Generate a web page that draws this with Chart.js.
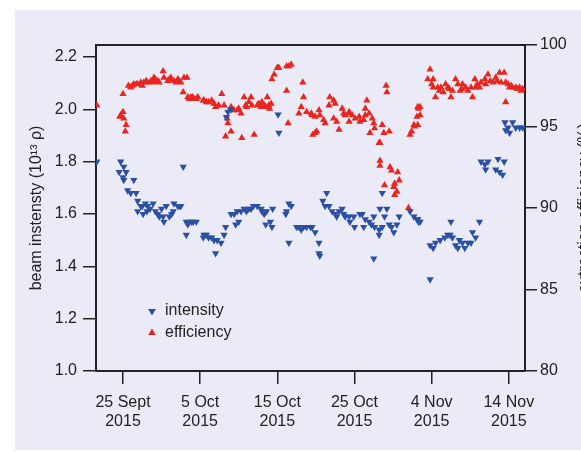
<!DOCTYPE html>
<html>
<head>
<meta charset="utf-8">
<script src="https://cdn.jsdelivr.net/npm/chart.js@4.4.1/dist/chart.umd.min.js"></script>
<style>
  html, body { margin: 0; padding: 0; background: #fff; }
  #wrap { width: 581px; height: 452px; }
</style>
</head>
<body>
<div id="wrap"><canvas id="chart" width="581" height="452"></canvas></div>
<script>
// x values are day numbers counted from 1 Sept 2015 (1 Oct = 31, 1 Nov = 62)
const tickDays = [25, 35, 45, 55, 65, 75];
const tickLabels = [['25 Sept', '2015'], ['5 Oct', '2015'], ['15 Oct', '2015'], ['25 Oct', '2015'], ['4 Nov', '2015'], ['14 Nov', '2015']];
const intensityTicks = [1.0, 1.2, 1.4, 1.6, 1.8, 2.0, 2.2];
const efficiencyTicks = [80, 85, 90, 95, 100];

// beam intensity (10^13 p)
const intensity = [
  [21.6,1.80],
  [24.5,1.76],[24.7,1.80],[25.0,1.74],[25.1,1.78],[25.1,1.73],[25.4,1.76],[25.6,1.69],[26.0,1.68],[26.4,1.73],[26.7,1.68],
  [26.9,1.65],[26.9,1.61],[27.3,1.63],[27.5,1.63],[27.6,1.60],[27.9,1.64],[28.1,1.61],[28.2,1.63],[28.5,1.62],[28.9,1.64],
  [29.2,1.61],[29.5,1.60],[29.7,1.59],[30.0,1.62],[30.2,1.59],[30.3,1.57],[30.6,1.63],[31.0,1.59],[31.3,1.60],[31.5,1.61],
  [31.6,1.64],[32.1,1.63],[32.3,1.63],[32.5,1.63],
  [32.8,1.78],
  [33.2,1.57],[33.2,1.52],[33.4,1.56],[33.6,1.57],[33.9,1.57],[34.1,1.57],[34.5,1.57],[35.4,1.51],
  [35.5,1.52],[35.8,1.52],[36.1,1.51],[36.5,1.51],[36.8,1.50],[37.2,1.50],[37.0,1.45],[37.7,1.49],[38.1,1.52],[38.3,1.55],
  [38.4,1.97],[38.6,1.99],[39.0,2.00],
  [39.0,1.60],[39.4,1.60],[39.6,1.56],[39.8,1.61],[40.0,1.57],[40.3,1.61],[40.7,1.62],[41.0,1.61],[41.3,1.62],[41.6,1.62],
  [41.9,1.63],[42.4,1.63],[42.9,1.62],[43.0,1.61],[43.3,1.60],[43.5,1.56],[43.6,1.61],[44.1,1.57],[44.3,1.55],[44.4,1.62],
  [45.1,1.98],[45.2,1.91],
  [46.1,1.60],[46.2,1.61],[46.5,1.64],[46.8,1.63],[46.5,1.49],
  [47.5,1.55],[47.8,1.55],[48.1,1.54],[48.4,1.55],[48.8,1.55],[49.3,1.55],[49.5,1.55],[49.9,1.53],[50.4,1.49],[50.4,1.45],[50.5,1.44],
  [50.9,1.65],[51.2,1.63],[51.4,1.68],[51.7,1.63],[52.1,1.61],[52.5,1.60],[52.7,1.59],[53.0,1.61],[53.4,1.62],[53.6,1.60],
  [53.8,1.59],[54.3,1.59],[54.4,1.57],[54.9,1.59],[55.0,1.55],[55.7,1.60],[56.0,1.60],[56.2,1.55],[56.4,1.58],[56.9,1.57],
  [57.2,1.56],[57.5,1.59],[57.6,1.55],[58.2,1.54],[58.2,1.52],[58.3,1.62],[58.6,1.55],[58.9,1.59],[59.2,1.62],[59.5,1.56],
  [59.8,1.55],[60.1,1.53],[60.5,1.56],[60.8,1.59],
  [57.5,1.43],
  [58.6,1.68],
  [62.2,1.61],[62.7,1.59],[63.1,1.58],[63.2,1.58],[63.3,1.57],[63.5,1.57],
  [64.8,1.35],
  [64.8,1.48],[65.2,1.47],[65.5,1.49],[66.1,1.50],[66.7,1.51],[67.1,1.52],[67.4,1.52],[67.7,1.51],[67.5,1.57],[68.1,1.48],
  [68.4,1.47],[68.6,1.50],[69.0,1.49],[69.3,1.47],[69.7,1.49],[70.1,1.49],[70.3,1.53],[70.7,1.51],[71.2,1.57],
  [71.4,1.80],[71.9,1.79],[72.0,1.77],[72.3,1.80],[73.3,1.77],[73.6,1.81],[73.8,1.76],[74.2,1.75],[74.4,1.80],
  [74.5,1.95],[74.6,1.92],[74.9,1.93],[75.1,1.91],[75.5,1.95],[75.9,1.93],[76.4,1.93],[76.8,1.93]
];

// extraction efficiency (%)
const efficiency = [
  [21.6,96.3],
  [24.6,95.6],[24.7,95.7],[25.0,95.9],[25.1,95.5],[25.4,95.1],[25.3,94.7],[25.0,97.0],
  [25.7,97.5],[26.0,97.4],[26.2,97.5],[26.4,97.6],[26.7,97.6],[26.9,97.6],[27.3,97.7],[27.5,97.5],[27.7,97.7],[28.0,97.8],
  [28.2,97.7],[28.6,97.8],[28.9,97.7],[29.0,98.0],[29.2,97.9],[29.5,97.8],[29.7,97.7],[30.2,98.4],[30.3,98.0],[30.8,97.8],
  [31.0,97.9],[31.2,98.0],[31.6,97.8],[31.9,97.7],[32.1,97.9],[32.3,97.8],[32.5,97.7],[32.9,98.0],[33.3,98.0],
  [32.8,97.1],[33.4,96.8],[33.6,96.7],[33.8,96.8],[34.0,96.8],[34.2,96.7],[34.5,96.7],[34.7,96.8],[35.4,96.6],
  [35.5,96.6],[35.8,96.5],[36.1,96.5],[36.5,96.6],[36.8,96.4],[37.0,96.2],[37.4,96.3],[37.8,97.0],[38.1,96.3],[38.5,95.5],
  [38.6,95.2],[38.3,94.4],[38.8,96.0],[39.0,94.7],[39.0,96.2],[39.4,96.0],[39.8,96.0],[40.0,96.1],[40.3,95.8],[40.4,94.3],
  [40.7,96.8],[40.9,96.3],[41.0,96.2],[41.3,96.5],[41.6,96.8],[41.7,96.3],[42.0,94.5],[42.4,96.3],[42.6,96.4],[42.9,96.2],
  [43.0,96.5],[43.3,96.3],[43.5,96.2],[43.7,96.8],[43.9,96.3],[44.0,96.1],[44.2,96.4],
  [44.3,97.9],[44.6,98.2],[45.0,98.6],[45.2,98.6],[46.2,98.7],[46.5,98.7],[46.8,98.8],[46.2,97.2],[46.4,95.2],
  [47.8,95.8],[48.1,96.2],[48.3,97.7],[48.4,96.8],[48.8,95.9],[49.4,95.8],[49.6,94.5],
  [49.5,95.7],[49.9,95.6],[50.4,96.0],[50.5,95.7],[51.0,95.4],[51.2,95.2],[49.9,94.6],[50.1,94.7],[51.7,96.3],[51.8,96.8],
  [52.3,96.6],[52.5,96.4],[52.3,95.5],[52.7,95.3],[53.0,94.8],[53.4,96.1],[53.6,95.8],[53.8,95.7],[54.3,95.9],[54.4,95.8],
  [54.3,95.3],[54.7,95.7],[55.1,95.5],[55.6,95.6],[55.7,95.3],[56.2,95.4],[56.4,95.7],[56.4,96.1],[56.6,96.6],[56.9,95.8],
  [57.3,95.5],[57.5,95.2],[57.6,94.9],[57.0,94.6],[58.2,94.0],[58.3,94.0],[58.6,95.1],[58.8,94.6],[59.5,94.7],[59.1,97.5],[59.2,97.1],
  [58.3,92.9],[58.3,92.6],[58.9,91.4],[59.6,92.5],[59.8,92.3],[60.1,91.3],[60.2,91.5],[60.2,90.8],[60.5,91.0],[60.6,92.2],[60.8,91.7],
  [62.0,90.0],
  [62.2,94.5],[62.4,94.7],[62.7,95.1],[62.8,95.0],[63.1,95.6],[63.2,96.2],[63.3,96.1],[63.5,96.2],[63.5,95.7],[63.2,95.1],
  [64.5,97.9],[64.8,98.5],[65.0,97.6],[65.2,97.9],[65.2,97.4],[65.5,96.8],[65.8,97.4],[66.0,97.2],[66.2,97.4],[66.5,97.1],
  [66.8,97.6],[67.1,97.4],[67.3,97.3],[67.5,96.8],[67.7,97.2],[68.1,97.9],[68.4,97.6],[68.7,97.2],[68.9,97.3],[69.0,97.6],
  [69.4,97.4],[69.7,97.2],[70.1,97.4],[70.3,96.8],[70.6,97.9],[70.7,97.4],[70.9,97.6],[71.2,97.4],[71.4,97.7],[71.9,97.9],
  [72.0,97.6],[72.3,98.2],[72.6,97.8],[73.0,97.7],[73.3,98.0],[73.5,97.8],[73.8,98.3],[74.0,97.7],[74.4,98.3],[74.6,97.7],
  [74.6,96.5],[74.9,97.6],[75.1,97.4],[75.3,97.5],[75.5,97.4],[75.9,97.4],[76.1,97.3],[76.4,97.4],[76.6,97.2],[76.8,97.3]
];

const blue = '#2b50a2';
const red = '#e8261f';
const ink = '#222222';
const fontFamily = "'Liberation Sans Narrow', 'Liberation Sans', Arial, sans-serif";

Chart.defaults.font.family = fontFamily;
Chart.defaults.color = ink;

// light panel behind the whole figure, box line on top of plot
const panel = {
  id: 'panel',
  beforeDraw(chart) {
    const ctx = chart.ctx;
    ctx.save();
    ctx.fillStyle = '#ffffff';
    ctx.fillRect(0, 0, chart.width, chart.height);
    ctx.fillStyle = '#ebebf7';
    ctx.fillRect(15, 10, chart.width - 15, chart.height - 12);
    ctx.restore();
  },
  afterDraw(chart) {
    const ctx = chart.ctx;
    const a = chart.chartArea;
    ctx.save();
    ctx.strokeStyle = ink;
    ctx.lineWidth = 2;
    ctx.beginPath();
    ctx.moveTo(a.left - 1, a.top);
    ctx.lineTo(a.right + 1, a.top);
    ctx.stroke();

    // right axis title, reads bottom to top and runs off the edge
    ctx.font = '16px ' + fontFamily;
    ctx.fillStyle = ink;
    ctx.translate(chart.width + 4, (a.top + a.bottom) / 2);
    ctx.rotate(-Math.PI / 2);
    ctx.textAlign = 'center';
    ctx.textBaseline = 'middle';
    ctx.fillText('extraction efficiency (%)', 0, 0);
    ctx.restore();

    // legend inside the plot
    const lx = a.left + 56, ly = a.top + 266;
    ctx.save();
    ctx.font = '16px ' + fontFamily;
    ctx.textBaseline = 'middle';
    ctx.fillStyle = blue;
    Chart.helpers.drawPoint(ctx, { pointStyle: 'triangle', radius: 4.2, rotation: 180, borderWidth: 0 }, lx, ly);
    ctx.fill();
    ctx.fillStyle = red;
    Chart.helpers.drawPoint(ctx, { pointStyle: 'triangle', radius: 4.2, rotation: 0, borderWidth: 0 }, lx, ly + 22);
    ctx.fill();
    ctx.fillStyle = ink;
    ctx.fillText('intensity', lx + 13, ly);
    ctx.fillText('efficiency', lx + 13, ly + 22);
    ctx.restore();
  }
};

const tickFont = { size: 16 };

new Chart(document.getElementById('chart'), {
  type: 'scatter',
  data: {
    datasets: [
      {
        label: 'intensity',
        data: intensity.map(([x, y]) => ({ x, y })),
        yAxisID: 'y',
        pointStyle: 'triangle',
        rotation: 180,
        pointRadius: 4.2,
        borderWidth: 0,
        backgroundColor: blue
      },
      {
        label: 'efficiency',
        data: efficiency.map(([x, y]) => ({ x, y })),
        yAxisID: 'y2',
        pointStyle: 'triangle',
        pointRadius: 4.2,
        borderWidth: 0,
        backgroundColor: red
      }
    ]
  },
  options: {
    responsive: false,
    animation: false,
    devicePixelRatio: 1,
    layout: { padding: { top: 45, left: 0, right: 0, bottom: 0 } },
    plugins: { legend: { display: false }, tooltip: { enabled: false } },
    scales: {
      x: {
        type: 'linear',
        position: 'bottom',
        min: 21.5,
        max: 77.1,
        afterBuildTicks: s => { s.ticks = tickDays.map(v => ({ value: v })); },
        afterFit: s => { s.height = 81; },
        ticks: {
          autoSkip: false,
          maxRotation: 0,
          padding: 9,
          font: tickFont,
          color: ink,
          callback: v => tickLabels[tickDays.indexOf(v)]
        },
        grid: { drawOnChartArea: false, drawTicks: true, tickLength: 13, color: ink, lineWidth: 1.5 },
        border: { display: true, color: ink, width: 2 }
      },
      y: {
        position: 'left',
        min: 1.0,
        max: 2.246,
        afterBuildTicks: s => { s.ticks = intensityTicks.map(v => ({ value: v })); },
        afterFit: s => { s.width = 96; },
        ticks: { padding: 6, font: tickFont, color: ink, callback: v => v.toFixed(1) },
        grid: { drawOnChartArea: false, drawTicks: true, tickLength: 13, color: ink, lineWidth: 1.5 },
        border: { display: true, color: ink, width: 2 },
        title: { display: true, text: 'beam instensty (10\u00B9\u00B3 \u03C1)', font: { size: 16 }, color: ink, padding: { top: 27, bottom: 0 } }
      },
      y2: {
        position: 'right',
        min: 80,
        max: 100,
        afterBuildTicks: s => { s.ticks = efficiencyTicks.map(v => ({ value: v })); },
        afterFit: s => { s.width = 56; },
        ticks: { padding: 3, font: tickFont, color: ink },
        grid: { drawOnChartArea: false, drawTicks: true, tickLength: 12, color: ink, lineWidth: 1.5 },
        border: { display: true, color: ink, width: 2 }
      }
    }
  },
  plugins: [panel]
});
</script>
</body>
</html>
